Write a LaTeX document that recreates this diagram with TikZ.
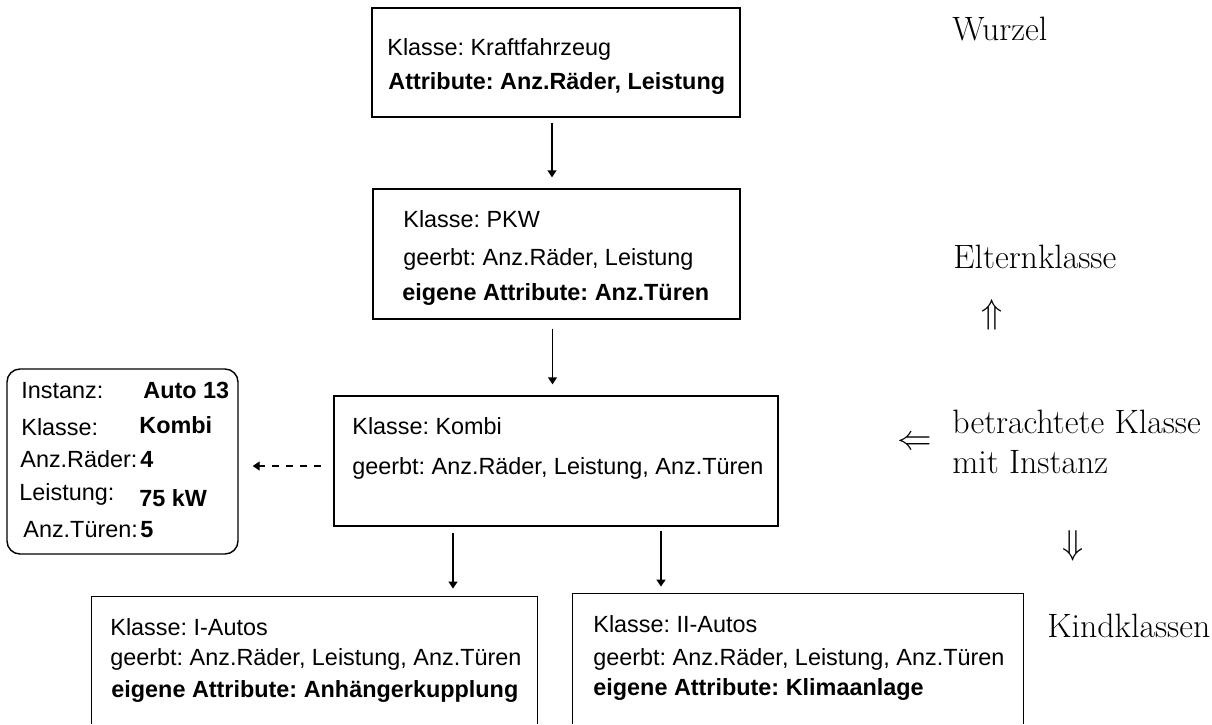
\documentclass[tikz,border=0pt]{standalone}
\usepackage{fontspec}
\newfontfamily\helv{Liberation Sans}
\usetikzlibrary{arrows.meta}
\frenchspacing
\begin{document}
\begin{tikzpicture}[x=0.5pt,y=-0.5pt,
  box/.style={draw,line width=0.7pt,inner sep=0pt,rectangle},
  openbox/.style={inner sep=0pt,rectangle},
  txt/.style={anchor=base west,inner sep=0pt,font=\helv\fontsize{11.7}{14}\selectfont},
  btxt/.style={anchor=base west,inner sep=0pt,font=\helv\bfseries\fontsize{11.7}{14}\selectfont},
  lbl/.style={anchor=base west,inner sep=0pt,font=\fontsize{16.9}{20}\selectfont},
  sym/.style={anchor=center,inner sep=0pt,font=\fontsize{16.9}{20}\selectfont},
  arr/.style={line width=0.7pt,-{Triangle[length=3.5pt,width=4.5pt]}},
  darr/.style={arr,dash pattern=on 3.5pt off 3.5pt}]
\useasboundingbox (0,0) rectangle (1212,724);

% class boxes
\node[box,minimum width=184pt,minimum height=54.5pt] (b1) at (556,62.5) {};
\node[box,minimum width=183.5pt,minimum height=65pt] (b2) at (556.5,254) {};
\node[box,minimum width=222pt,minimum height=65pt] (b3) at (556,461) {};
\node[box,rounded corners=6.5pt,minimum width=115.5pt,minimum height=92.5pt] (inst) at (122.5,461.5) {};
\node[openbox,minimum width=222.5pt,minimum height=63.5pt] (b4) at (314.5,660.5) {};
\node[openbox,minimum width=225pt,minimum height=65pt] (b5) at (798,659) {};
\draw[line width=0.7pt] (b4.south west) |- (b4.north east) -- (b4.south east);
\draw[line width=0.7pt] (b5.south west) |- (b5.north east) -- (b5.south east);

% box texts
\node[txt]  (t1a) at (387,55) {Klasse: Kraftfahrzeug};
\node[btxt] (t1b) at (388,89) {Attribute: Anz.Räder, Leistung};

\node[txt]  (t2a) at (403,227) {Klasse: PKW};
\node[txt]  (t2b) at (403,265) {geerbt: Anz.Räder, Leistung};
\node[btxt] (t2c) at (402,300) {eigene Attribute: Anz.Türen};

\node[txt]  (t3a) at (352,434) {Klasse: Kombi};
\node[txt]  (t3b) at (352,474) {geerbt: Anz.Räder, Leistung, Anz.Türen};

\node[txt]  (i1a) at (21,398)  {Instanz:};
\node[btxt] (i1b) at (143,398) {Auto 13};
\node[txt]  (i2a) at (21,435)  {Klasse:};
\node[btxt] (i2b) at (139,433) {Kombi};
\node[txt]  (i3a) at (20,467)  {Anz.Räder:};
\node[btxt] (i3b) at (140,467) {4};
\node[txt]  (i4a) at (19,500)  {Leistung:};
\node[btxt] (i4b) at (139,506) {75 kW};
\node[txt]  (i5a) at (23,537)  {Anz.Türen:};
\node[btxt] (i5b) at (140,537) {5};

\node[txt]  (t4a) at (110,635) {Klasse: I-Autos};
\node[txt]  (t4b) at (110,665) {geerbt: Anz.Räder, Leistung, Anz.Türen};
\node[btxt] (t4c) at (111,697) {eigene Attribute: Anhängerkupplung};

\node[txt]  (t5a) at (593,632) {Klasse: II-Autos};
\node[txt]  (t5b) at (593,665) {geerbt: Anz.Räder, Leistung, Anz.Türen};
\node[btxt] (t5c) at (593,695) {eigene Attribute: Klimaanlage};

% connectors
\draw[arr,shorten <=2.5pt,shorten >=5.5pt] ([xshift=-2pt]b1.south) -- ([xshift=-2pt]b1.south |- b2.north);
\draw[arr,shorten <=4.5pt,shorten >=5.5pt] ([xshift=-2pt]b2.south) -- ([xshift=-2pt]b2.south |- b3.north);
\draw[arr,shorten <=3pt,shorten >=4pt] ([xshift=-51.5pt]b3.south) -- ([xshift=-51.5pt]b3.south |- b4.north);
\draw[arr,shorten <=2pt,shorten >=3.5pt] ([xshift=52.5pt]b3.south) -- ([xshift=52.5pt]b3.south |- b5.north);
\draw[darr,shorten <=6pt,shorten >=7pt] ([yshift=-2.5pt]b3.west) -- ([yshift=-2.5pt]b3.west -| inst.east);

% side labels
\node[lbl] (l1) at (952,40)  {Wurzel};
\node[lbl] (l2) at (953,268) {Elternklasse};
\node[sym] (s1) at (992,315) {$\Uparrow$};
\node[sym] (s2) at (915,443) {$\Leftarrow$};
\node[lbl] (l3) at (952,433) {betrachtete Klasse};
\node[lbl] (l4) at (952,473) {mit Instanz};
\node[sym] (s3) at (1073,546) {$\Downarrow$};
\node[lbl] (l5) at (1047,637) {Kindklassen};
\end{tikzpicture}
\end{document}
